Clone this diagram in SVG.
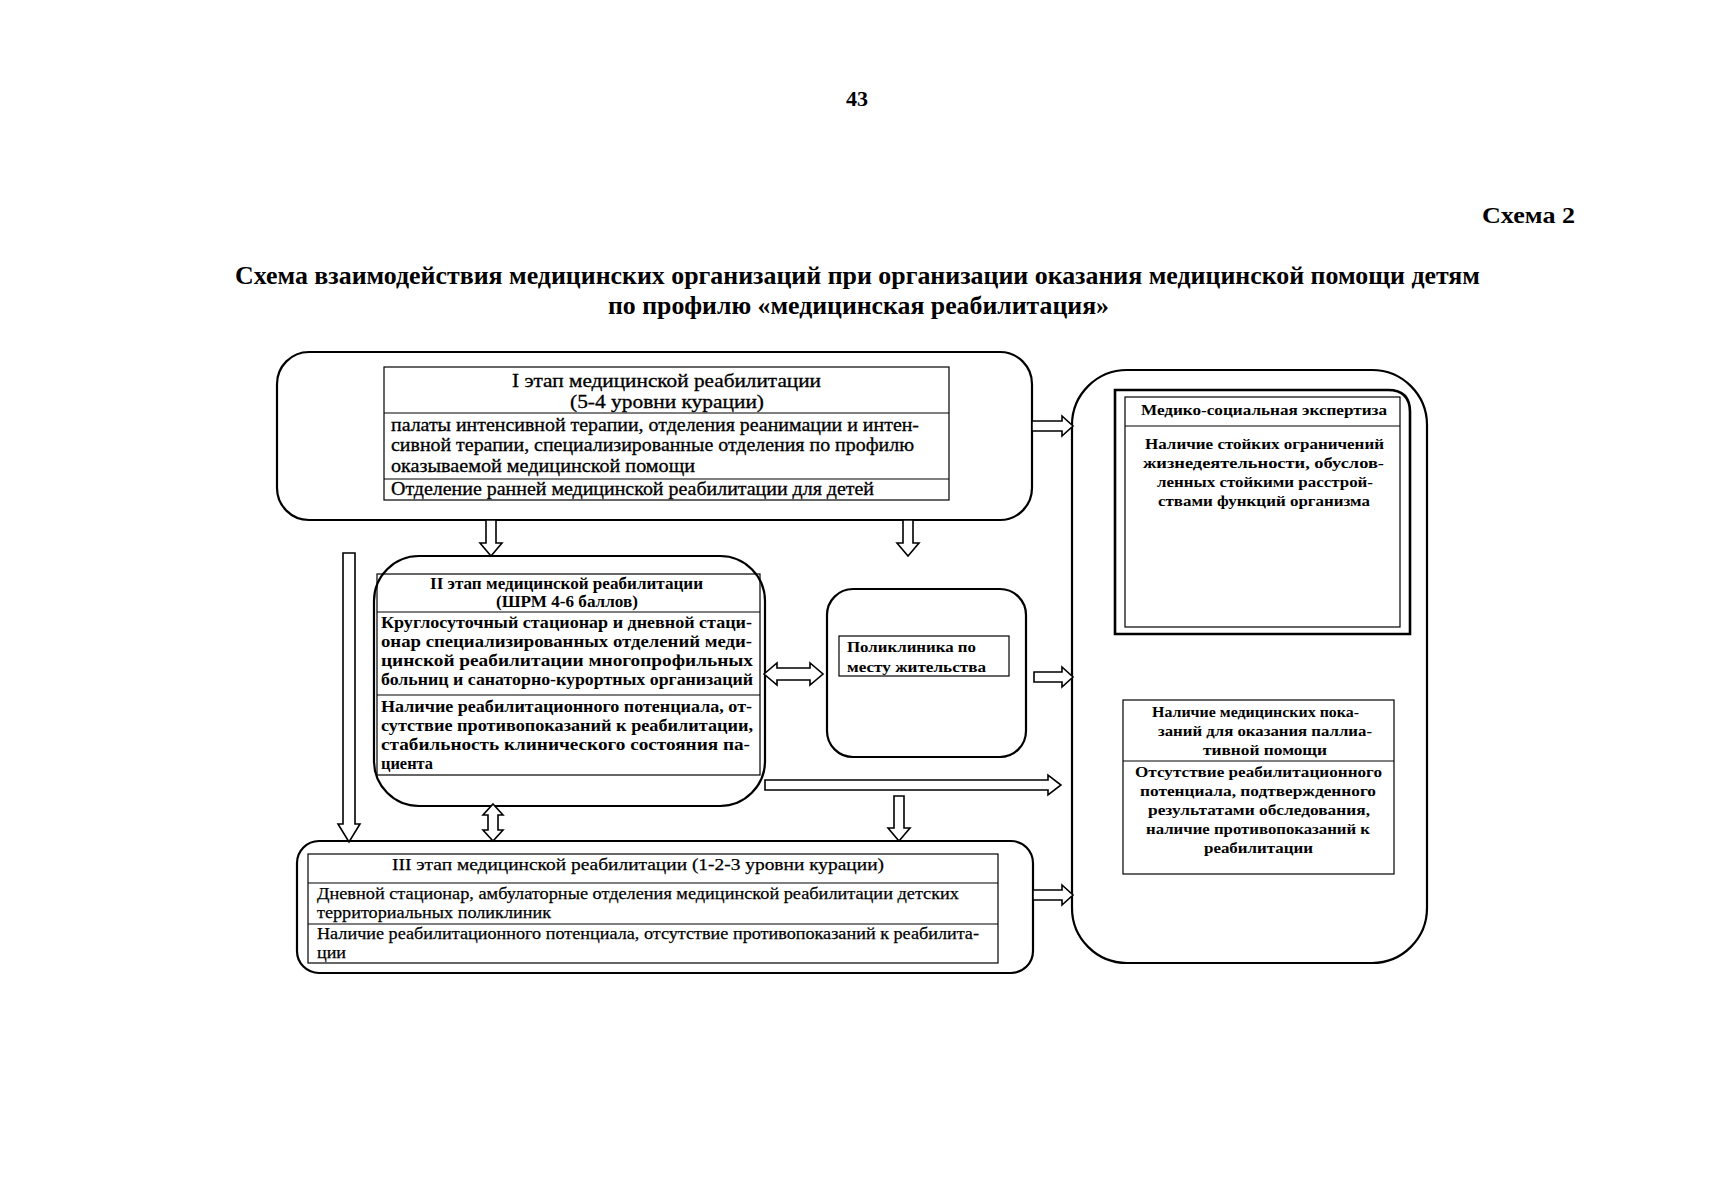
<svg xmlns="http://www.w3.org/2000/svg" width="1719" height="1200" viewBox="0 0 1719 1200">
<style>
.box{fill:none;stroke:#000;stroke-width:2.2}
.tbl{fill:none;stroke:#000;stroke-width:1.2}
.ln{stroke:#000;stroke-width:1.2}
.arr{fill:#fff;stroke:#000;stroke-width:1.6;stroke-linejoin:miter}
text{font-family:"Liberation Serif","Times New Roman",serif;fill:#000}
.ttl{font-size:26px;font-weight:bold}
.r18{font-size:18px;stroke:#000;stroke-width:0.3}
.b16{font-size:16.5px;font-weight:bold}
.b15{font-size:15.5px;font-weight:bold}
.r17{font-size:17px;stroke:#000;stroke-width:0.25}
</style>
<rect width="1719" height="1200" fill="#fff"/>

<g id="header">
<text x="846" y="106" font-size="21" font-weight="bold" textLength="22" lengthAdjust="spacingAndGlyphs">43</text>
<text x="1482" y="223" font-size="24" font-weight="bold" textLength="93" lengthAdjust="spacingAndGlyphs">Схема 2</text>
<text class="ttl" x="235" y="284" textLength="1245" lengthAdjust="spacingAndGlyphs">Схема взаимодействия медицинских организаций при организации оказания медицинской помощи детям</text>
<text class="ttl" x="608" y="314" textLength="501" lengthAdjust="spacingAndGlyphs">по профилю «медицинская реабилитация»</text>
</g>

<g id="stage1">
<rect class="box" x="277" y="352" width="755" height="168" rx="32"/>
<rect class="tbl" x="384" y="367" width="565" height="133"/>
<line class="ln" x1="384" y1="413" x2="949" y2="413"/>
<line class="ln" x1="384" y1="479" x2="949" y2="479"/>
<text class="r18" x="512" y="387" textLength="309" lengthAdjust="spacingAndGlyphs">I этап медицинской реабилитации</text>
<text class="r18" x="570" y="408" textLength="194" lengthAdjust="spacingAndGlyphs">(5-4 уровни курации)</text>
<text class="r18" x="391" y="431" textLength="528" lengthAdjust="spacingAndGlyphs">палаты интенсивной терапии, отделения реанимации и интен-</text>
<text class="r18" x="391" y="451" textLength="523" lengthAdjust="spacingAndGlyphs">сивной терапии, специализированные отделения по профилю</text>
<text class="r18" x="391" y="472" textLength="304" lengthAdjust="spacingAndGlyphs">оказываемой медицинской помощи</text>
<text class="r18" x="391" y="495" textLength="483" lengthAdjust="spacingAndGlyphs">Отделение ранней медицинской реабилитации для детей</text>
</g>

<g id="stage2">
<rect class="box" x="374" y="556" width="391" height="250" rx="45"/>
<rect class="tbl" x="377" y="574" width="383" height="201"/>
<line class="ln" x1="377" y1="612" x2="760" y2="612"/>
<line class="ln" x1="377" y1="695" x2="760" y2="695"/>
<text class="b16" x="430" y="589" textLength="273" lengthAdjust="spacingAndGlyphs">II этап медицинской реабилитации</text>
<text class="b16" x="496" y="607" textLength="142" lengthAdjust="spacingAndGlyphs">(ШРМ 4-6 баллов)</text>
<text class="b16" x="381" y="628" textLength="371" lengthAdjust="spacingAndGlyphs">Круглосуточный стационар и дневной стаци-</text>
<text class="b16" x="381" y="647" textLength="371" lengthAdjust="spacingAndGlyphs">онар специализированных отделений меди-</text>
<text class="b16" x="381" y="666" textLength="372" lengthAdjust="spacingAndGlyphs">цинской реабилитации многопрофильных</text>
<text class="b16" x="381" y="685" textLength="372" lengthAdjust="spacingAndGlyphs">больниц и санаторно-курортных организаций</text>
<text class="b16" x="381" y="712" textLength="371" lengthAdjust="spacingAndGlyphs">Наличие реабилитационного потенциала, от-</text>
<text class="b16" x="381" y="731" textLength="372" lengthAdjust="spacingAndGlyphs">сутствие противопоказаний к реабилитации,</text>
<text class="b16" x="381" y="750" textLength="369" lengthAdjust="spacingAndGlyphs">стабильность клинического состояния па-</text>
<text class="b16" x="381" y="769" textLength="52" lengthAdjust="spacingAndGlyphs">циента</text>
</g>

<g id="polyclinic">
<rect class="box" x="827" y="589" width="199" height="168" rx="26"/>
<rect class="tbl" x="839" y="636" width="170" height="40"/>
<text class="b15" x="847" y="652" textLength="129" lengthAdjust="spacingAndGlyphs">Поликлиника по</text>
<text class="b15" x="847" y="672" textLength="139" lengthAdjust="spacingAndGlyphs">месту жительства</text>
</g>

<g id="stage3">
<rect class="box" x="297" y="841" width="736" height="132" rx="22"/>
<rect class="tbl" x="308" y="854" width="690" height="109"/>
<line class="ln" x1="308" y1="883" x2="998" y2="883"/>
<line class="ln" x1="308" y1="924" x2="998" y2="924"/>
<text class="r17" x="392" y="870" textLength="492" lengthAdjust="spacingAndGlyphs">III этап медицинской реабилитации (1-2-3 уровни курации)</text>
<text class="r17" x="317" y="899" textLength="642" lengthAdjust="spacingAndGlyphs">Дневной стационар, амбулаторные отделения медицинской реабилитации детских</text>
<text class="r17" x="317" y="918" textLength="234" lengthAdjust="spacingAndGlyphs">территориальных поликлиник</text>
<text class="r17" x="317" y="939" textLength="662" lengthAdjust="spacingAndGlyphs">Наличие реабилитационного потенциала, отсутствие противопоказаний к реабилита-</text>
<text class="r17" x="317" y="958" textLength="29" lengthAdjust="spacingAndGlyphs">ции</text>
</g>

<g id="outcomes">
<rect class="box" x="1072" y="370" width="355" height="593" rx="55"/>
<path d="M1115,390 H1388 Q1410,390 1410,412 V634 H1115 Z" fill="none" stroke="#000" stroke-width="2.6"/>
<rect class="tbl" x="1125" y="397" width="275" height="230"/>
<line class="ln" x1="1125" y1="426" x2="1400" y2="426"/>
<text class="b15" x="1141" y="415" textLength="246" lengthAdjust="spacingAndGlyphs">Медико-социальная экспертиза</text>
<text class="b15" x="1145" y="449" textLength="239" lengthAdjust="spacingAndGlyphs">Наличие стойких ограничений</text>
<text class="b15" x="1143" y="468" textLength="241" lengthAdjust="spacingAndGlyphs">жизнедеятельности, обуслов-</text>
<text class="b15" x="1157" y="487" textLength="216" lengthAdjust="spacingAndGlyphs">ленных стойкими расстрой-</text>
<text class="b15" x="1158" y="506" textLength="212" lengthAdjust="spacingAndGlyphs">ствами функций организма</text>

<rect class="tbl" x="1123" y="700" width="271" height="174"/>
<line class="ln" x1="1123" y1="761" x2="1394" y2="761"/>
<text class="b15" x="1152" y="717" textLength="207" lengthAdjust="spacingAndGlyphs">Наличие медицинских пока-</text>
<text class="b15" x="1158" y="736" textLength="214" lengthAdjust="spacingAndGlyphs">заний для оказания паллиа-</text>
<text class="b15" x="1203" y="755" textLength="124" lengthAdjust="spacingAndGlyphs">тивной помощи</text>
<text class="b15" x="1135" y="777" textLength="247" lengthAdjust="spacingAndGlyphs">Отсутствие реабилитационного</text>
<text class="b15" x="1140" y="796" textLength="236" lengthAdjust="spacingAndGlyphs">потенциала, подтвержденного</text>
<text class="b15" x="1148" y="815" textLength="222" lengthAdjust="spacingAndGlyphs">результатами обследования,</text>
<text class="b15" x="1146" y="834" textLength="224" lengthAdjust="spacingAndGlyphs">наличие противопоказаний к</text>
<text class="b15" x="1204" y="853" textLength="109" lengthAdjust="spacingAndGlyphs">реабилитации</text>
</g>

<g id="connectors">
<polygon class="arr" points="1032,421 1062,421 1062,416 1073,426 1062,436 1062,431 1032,431"/>
<polygon class="arr" points="1034,672 1062,672 1062,667 1073,677 1062,687 1062,682 1034,682"/>
<polygon class="arr" points="765,780 1048,780 1048,775 1061,785 1048,795 1048,790 765,790"/>
<polygon class="arr" points="1033,890 1062,890 1062,885 1073,895 1062,905 1062,900 1033,900"/>
<polygon class="arr" points="764,674 777,663 777,668 810,668 810,663 823,674 810,685 810,680 777,680 777,685"/>
<polygon class="arr" points="486,520 496,520 496,543 502,543 491,556 480,543 486,543"/>
<polygon class="arr" points="903,520 913,520 913,543 919,543 908,556 897,543 903,543"/>
<polygon class="arr" points="894,796 904,796 904,828 910,828 899,841 888,828 894,828"/>
<polygon class="arr" points="343,553 355,553 355,824 360,824 349,842 338,824 343,824"/>
<polygon class="arr" points="493,804 503,815 498,815 498,830 503,830 493,841 483,830 488,830 488,815 483,815"/>
</g>
</svg>
